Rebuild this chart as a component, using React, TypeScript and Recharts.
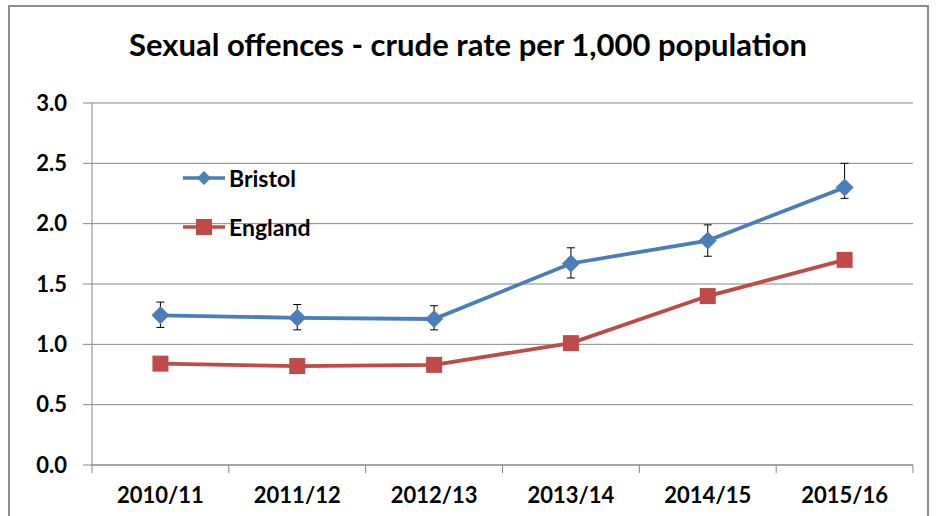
import * as React from "react";
import { LineChart, Line, XAxis, YAxis, CartesianGrid, ErrorBar } from "recharts";

// values
const years = ["2010/11", "2011/12", "2012/13", "2013/14", "2014/15", "2015/16"];
const bristol = [1.24, 1.22, 1.21, 1.67, 1.86, 2.3];
const bristolLow = [1.14, 1.12, 1.12, 1.55, 1.73, 2.21];
const bristolHigh = [1.35, 1.33, 1.32, 1.8, 1.99, 2.5];
const england = [0.84, 0.82, 0.83, 1.01, 1.4, 1.7];
const yTicks = [0, 0.5, 1, 1.5, 2, 2.5, 3];

const seriesNames = { bristol: "Bristol", england: "England" };

const BLUE = "#4a7ebb";
const RED = "#be4b48";
const AXIS = "#868686";
const FONT = "Lato, 'Open Sans', sans-serif";

const W = 936;
const H = 516;
const M = { top: 103, right: 23, bottom: 0, left: 0 };
const Y_AXIS_W = 92;
const X_AXIS_H = 51;
const bandW = (W - Y_AXIS_W - M.right) / years.length;
const axisY = H - X_AXIS_H;

const data = years.map((year, i) => ({
  year,
  bristol: bristol[i],
  bristolErr: [bristol[i] - bristolLow[i], bristolHigh[i] - bristol[i]],
  england: england[i],
}));

const Diamond = (props: any) => {
  const { cx, cy, index } = props;
  if (cx == null || cy == null) return null;
  const r = 9;
  return (
    <path
      key={`d-${index}`}
      d={`M${cx},${cy - r}L${cx + r},${cy}L${cx},${cy + r}L${cx - r},${cy}Z`}
      fill={BLUE}
    />
  );
};

const Square = (props: any) => {
  const { cx, cy, index } = props;
  if (cx == null || cy == null) return null;
  const s = 8;
  return <rect key={`s-${index}`} x={cx - s} y={cy - s} width={s * 2} height={s * 2} fill={RED} />;
};

// Excel style: labels under the band centre, tick marks on band edges
const XTick = (props: any) => {
  const { x, payload } = props;
  const left = x - bandW / 2;
  return (
    <g>
      <line x1={left} y1={axisY} x2={left} y2={axisY + 8} stroke={AXIS} />
      {payload.index === years.length - 1 && (
        <line x1={x + bandW / 2} y1={axisY} x2={x + bandW / 2} y2={axisY + 8} stroke={AXIS} />
      )}
      <text
        x={x}
        y={axisY + 38}
        textAnchor="middle"
        fontFamily={FONT}
        fontWeight="bold"
        fontSize={22}
        fill="#000"
      >
        {payload.value}
      </text>
    </g>
  );
};

const LegendItem = ({ color, label, square }: { color: string; label: string; square?: boolean }) => (
  <div style={{ display: "flex", alignItems: "center", height: 49 }}>
    <svg width={46} height={20}>
      <line x1={2} y1={10} x2={44} y2={10} stroke={color} strokeWidth={3.5} />
      {square ? (
        <rect x={15} y={2} width={16} height={16} fill={color} />
      ) : (
        <path d="M23,3L30,10L23,17L16,10Z" fill={color} />
      )}
    </svg>
    <span style={{ fontFamily: FONT, fontWeight: "bold", fontSize: 23, marginLeft: 2 }}>{label}</span>
  </div>
);

export default function App() {
  return (
    <div
      style={{
        position: "absolute",
        left: 0,
        top: 0,
        width: W,
        height: H,
        background: "#fff",
        overflow: "hidden",
      }}
    >
      <div
        style={{
          position: "absolute",
          left: 8,
          top: 5,
          width: 921,
          height: 540,
          border: "2px solid #8c8c8c",
          boxSizing: "border-box",
        }}
      />
      <div
        style={{
          position: "absolute",
          left: 0,
          top: 24,
          width: W,
          textAlign: "center",
          fontFamily: FONT,
          fontWeight: "bold",
          fontSize: 31,
          lineHeight: "40px",
        }}
      >
        Sexual offences - crude rate per 1,000 population
      </div>
      <div style={{ position: "absolute", left: 0, top: 0 }}>
        <LineChart width={W} height={H} data={data} margin={M}>
          <CartesianGrid horizontal vertical={false} stroke={AXIS} strokeWidth={1} />
          <XAxis
            dataKey="year"
            scale="band"
            height={X_AXIS_H}
            axisLine={{ stroke: AXIS }}
            tickLine={false}
            tick={<XTick />}
            interval={0}
          />
          <YAxis
            width={Y_AXIS_W}
            domain={[0, 3]}
            ticks={yTicks}
            interval={0}
            tickFormatter={(v: number) => v.toFixed(1)}
            axisLine={{ stroke: AXIS }}
            tickLine={{ stroke: AXIS }}
            tickSize={9}
            tickMargin={16}
            tick={{ fontFamily: FONT, fontWeight: "bold", fontSize: 22, fill: "#000" }}
          />
          <Line
            dataKey="england"
            name={seriesNames.england}
            stroke={RED}
            strokeWidth={3.8}
            dot={<Square />}
            activeDot={false}
            isAnimationActive={false}
          />
          <Line
            dataKey="bristol"
            name={seriesNames.bristol}
            stroke={BLUE}
            strokeWidth={3.8}
            dot={<Diamond />}
            activeDot={false}
            isAnimationActive={false}
          >
            <ErrorBar dataKey="bristolErr" width={4} stroke="#000" strokeWidth={1} isAnimationActive={false} />
          </Line>
        </LineChart>
      </div>
      <div style={{ position: "absolute", left: 181, top: 153 }}>
        <LegendItem color={BLUE} label={seriesNames.bristol} />
        <LegendItem color={RED} label={seriesNames.england} square />
      </div>
    </div>
  );
}
